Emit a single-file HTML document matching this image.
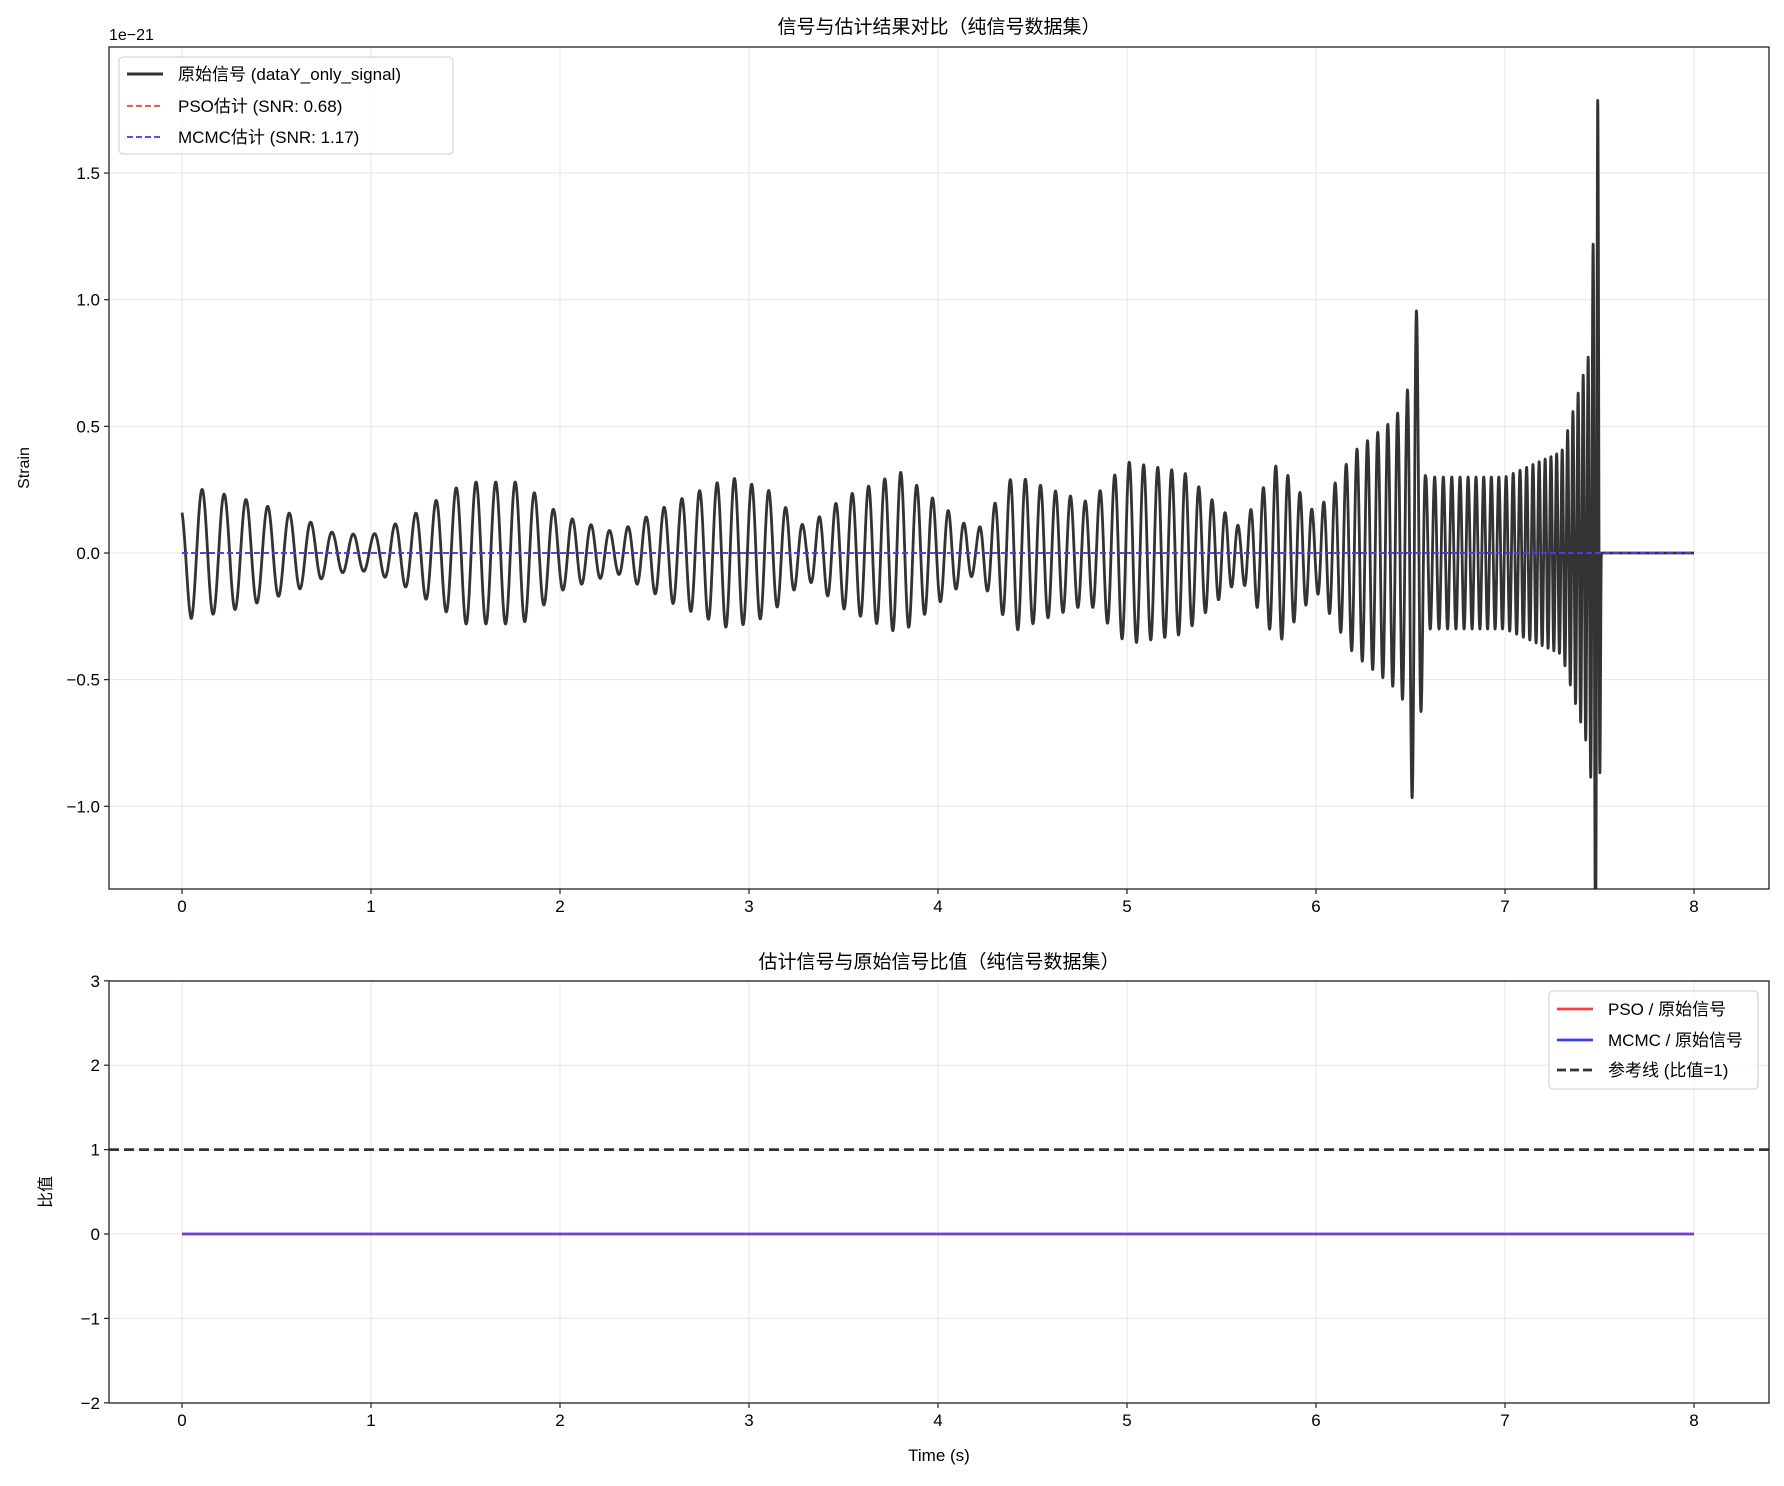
<!DOCTYPE html>
<html><head><meta charset="utf-8">
<style>
body{margin:0;background:#fff;}
svg text{font-family:"Liberation Sans","Noto Sans CJK SC",sans-serif;fill:#000;}
</style></head>
<body>
<svg id="chart" width="1784" height="1481" viewBox="0 0 1784 1481" xmlns="http://www.w3.org/2000/svg">
<defs><clipPath id="clipTop"><rect x="109" y="47" width="1660" height="842"/></clipPath></defs>
<rect width="1784" height="1481" fill="#fff"/>
<g id="top"></g>
<g id="bot"></g>
</svg>
<script>
// Envelope of the reference signal (time s, amplitude x1e-21)
const envTimes = [0,0.05,0.3,0.6,0.8,1.0,1.2,1.5,1.8,2.0,2.3,2.6,2.9,3.1,3.3,3.5,3.8,4.0,4.2,4.4,4.6,4.8,5.0,5.3,5.6,5.8,6.0,6.2,6.4,6.48,6.52,6.58,7.0,7.3,7.45,7.49,7.5,7.51,8.0];
const envAmps  = [0.19,0.26,0.22,0.15,0.08,0.07,0.14,0.28,0.28,0.15,0.08,0.2,0.3,0.25,0.1,0.22,0.32,0.2,0.08,0.31,0.25,0.2,0.36,0.32,0.1,0.36,0.15,0.4,0.52,0.6,1.12,0.3,0.3,0.4,0.8,1.85,1.2,0,0];
// Oscillation frequency (Hz) at those times
const freqTimes = [0,1,2,3,4,5,6,6.5,7,7.5];
const freqVals  = [8.5,9,10,11,12,13,16,20,26,40];
const xTicks = [0,1,2,3,4,5,6,7,8];
const yTicksTop = [-1.0,-0.5,0.0,0.5,1.0,1.5];
const yTicksBot = [-2,-1,0,1,2,3];
const pso = [[0,0],[8,0]];
const mcmc = [[0,0],[8,0]];
const ratioPso = [[0,0],[8,0]];
const ratioMcmc = [[0,0],[8,0]];
const refLine = 1;

const NS="http://www.w3.org/2000/svg";
function el(p,t,a,txt){const e=document.createElementNS(NS,t);for(const k in a)e.setAttribute(k,a[k]);if(txt!==undefined)e.textContent=txt;p.appendChild(e);return e;}
const L=109,R=1769;
const X=v=>182+v*189;
const Yt=v=>553-v*253.3;
const Yb=v=>1234-v*84.4;
function interp(ts,vs,t){if(t<=ts[0])return vs[0];for(let i=1;i<ts.length;i++){if(t<=ts[i]){const f=(t-ts[i-1])/(ts[i]-ts[i-1]);return vs[i-1]+f*(vs[i]-vs[i-1]);}}return vs[vs.length-1];}

function axes(g,top,bot,Y,yt){
  xTicks.forEach(v=>{const l=el(g,'line',{x1:X(v),x2:X(v),y1:top,y2:bot,stroke:'#e6e6e6','stroke-width':1});
  });
  yt.forEach(v=>{const l=el(g,'line',{x1:L,x2:R,y1:Y(v),y2:Y(v),stroke:'#e6e6e6','stroke-width':1});
  });
}
function frame(g,top,bot,Y,yt,fmt){
  el(g,'rect',{x:L,y:top,width:R-L,height:bot-top,fill:'none',stroke:'#222','stroke-width':1.3});
  xTicks.forEach(v=>{el(g,'line',{x1:X(v),x2:X(v),y1:bot,y2:bot+5,stroke:'#222','stroke-width':1.2});
   const t=el(g,'text',{x:X(v),y:bot+23,'font-size':17,'text-anchor':'middle'},String(v));
   });
  yt.forEach(v=>{el(g,'line',{x1:L-5,x2:L,y1:Y(v),y2:Y(v),stroke:'#222','stroke-width':1.2});
   const t=el(g,'text',{x:L-9,y:Y(v)+6,'font-size':17,'text-anchor':'end'},fmt(v));
   });
}
function pts(arr,Y){return arr.map(p=>X(p[0])+','+Y(p[1])).join(' ');}

const gt=document.getElementById('top');
axes(gt,47,889,Yt,yTicksTop);
let d=[];let phase=Math.PI/2*0.35;
const dt=0.0005;
for(let t=0;t<=8.0001;t+=dt){
  const a=interp(envTimes,envAmps,t);const f=interp(freqTimes,freqVals,t);
  phase+=2*Math.PI*f*dt;
  d.push(X(t).toFixed(2)+','+Yt(a*Math.cos(phase)).toFixed(2));
}
const sig=el(gt,'polyline',{points:d.join(' '),fill:'none',stroke:'#333','stroke-width':2.8,'stroke-linejoin':'round','clip-path':'url(#clipTop)'});

const pl=el(gt,'polyline',{points:pts(pso,Yt),fill:'none',stroke:'#ff3b3b','stroke-width':1.8,'stroke-dasharray':'6,3'});

const ml=el(gt,'polyline',{points:pts(mcmc,Yt),fill:'none',stroke:'#3b3bff','stroke-width':1.8,'stroke-dasharray':'6,3'});

frame(gt,47,889,Yt,yTicksTop,v=>(v<0?'−':'')+Math.abs(v).toFixed(1));
</script>
<script>
(function(){
const gt=document.getElementById('top');
let t=el(gt,'text',{x:939,y:33,'font-size':19,'text-anchor':'middle'},'信号与估计结果对比（纯信号数据集）');

t=el(gt,'text',{x:109,y:40,'font-size':16},'1e−21');

t=el(gt,'text',{x:29,y:468,'font-size':16,'text-anchor':'middle',transform:'rotate(-90 29 468)'},'Strain');

const lg=el(gt,'g',{});
el(lg,'rect',{x:119,y:57,width:334,height:97,rx:4,fill:'#fff','fill-opacity':0.8,stroke:'#ccc'});
el(lg,'line',{x1:127,x2:163,y1:74,y2:74,stroke:'#333','stroke-width':3});
el(lg,'line',{x1:127,x2:163,y1:106,y2:106,stroke:'#ff3b3b','stroke-width':1.8,'stroke-dasharray':'6,3'});
el(lg,'line',{x1:127,x2:163,y1:137,y2:137,stroke:'#3b3bff','stroke-width':1.8,'stroke-dasharray':'6,3'});
el(lg,'text',{x:178,y:80,'font-size':17},'原始信号 (dataY_only_signal)');
el(lg,'text',{x:178,y:112,'font-size':17},'PSO估计 (SNR: 0.68)');
el(lg,'text',{x:178,y:143,'font-size':17},'MCMC估计 (SNR: 1.17)');

const gb=document.getElementById('bot');
axes(gb,981,1403,Yb,yTicksBot);
let l=el(gb,'line',{x1:L,x2:R,y1:Yb(refLine),y2:Yb(refLine),stroke:'#333','stroke-width':2.8,'stroke-dasharray':'10,5'});

l=el(gb,'polyline',{points:pts(ratioPso,Yb),fill:'none',stroke:'#ff3b3b','stroke-width':2.8,'stroke-opacity':0.8});

l=el(gb,'polyline',{points:pts(ratioMcmc,Yb),fill:'none',stroke:'#3b3bff','stroke-width':2.8,'stroke-opacity':0.75});

frame(gb,981,1403,Yb,yTicksBot,v=>(v<0?'−':'')+Math.abs(v));
t=el(gb,'text',{x:939,y:968,'font-size':19,'text-anchor':'middle'},'估计信号与原始信号比值（纯信号数据集）');

t=el(gb,'text',{x:939,y:1461,'font-size':17,'text-anchor':'middle'},'Time (s)');

t=el(gb,'text',{x:51,y:1192,'font-size':16,'text-anchor':'middle',transform:'rotate(-90 51 1192)'},'比值');

const lb=el(gb,'g',{});
el(lb,'rect',{x:1549,y:991,width:209,height:98,rx:4,fill:'#fff','fill-opacity':0.8,stroke:'#ccc'});
el(lb,'line',{x1:1557,x2:1593,y1:1009,y2:1009,stroke:'#ff3b3b','stroke-width':2.8});
el(lb,'line',{x1:1557,x2:1593,y1:1040,y2:1040,stroke:'#3b3bff','stroke-width':2.8});
el(lb,'line',{x1:1557,x2:1593,y1:1070,y2:1070,stroke:'#333','stroke-width':2.8,'stroke-dasharray':'9,4'});
el(lb,'text',{x:1608,y:1015,'font-size':17},'PSO / 原始信号');
el(lb,'text',{x:1608,y:1046,'font-size':17},'MCMC / 原始信号');
el(lb,'text',{x:1608,y:1076,'font-size':17},'参考线 (比值=1)');
})();
</script>
</body></html>
